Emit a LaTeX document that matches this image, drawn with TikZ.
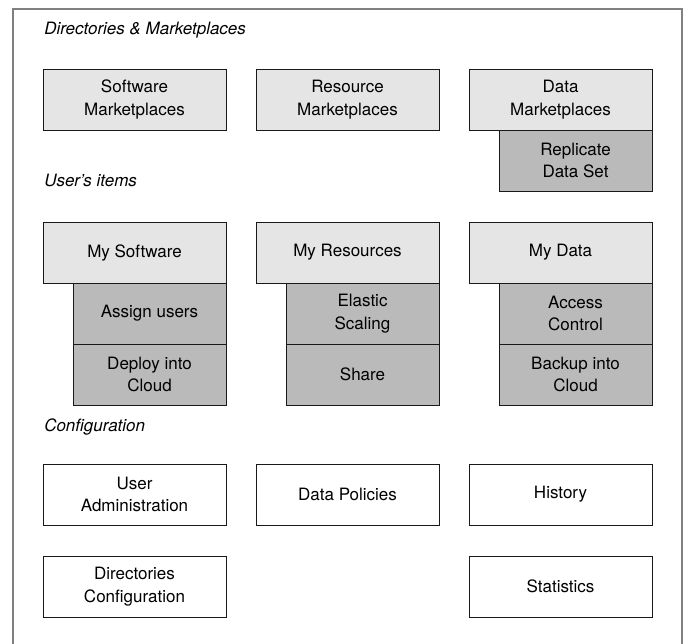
\documentclass[tikz,border=0pt]{standalone}
\usepackage{fontspec}
\setmainfont{TeX Gyre Heros}
\usetikzlibrary{positioning}

\begin{document}
\begin{tikzpicture}[x=0.75pt, y=-0.75pt,
    box/.style={draw=black!90, line width=0.75pt, inner sep=0pt, outer sep=0pt,
        align=center, font=\fontsize{12.75}{17}\selectfont,
        minimum width=137.25pt, minimum height=45.75pt},
    itembox/.style={box, fill=black!10},
    actionbox/.style={box, fill=black!27, minimum width=114.75pt},
    configbox/.style={box, fill=white},
    heading/.style={anchor=base west, inner sep=0pt, font=\fontsize{12.75}{17}\selectfont\itshape}]
    \useasboundingbox (0,0) rectangle (684,643);
    \draw[black!50, line width=1.5pt] (12.5,660) -- (12.5,8.5) -- (681.5,8.5) -- (681.5,660);

    % directories and marketplaces
    \node[heading] (dirhead) at (44,34) {Directories \& Marketplaces};
    \node[itembox, anchor=north west] (swmarket) at (43,69) {Software\\Marketplaces};
    \node[itembox, anchor=north west] (resmarket) at (256,69) {Resource\\Marketplaces};
    \node[itembox, anchor=north west] (datamarket) at (469,69) {Data\\Marketplaces};
    \node[actionbox, anchor=north east] (replicate) at (datamarket.south east) {Replicate\\Data Set};

    % user's items
    \node[heading] (itemhead) at (44,186) {User's items};
    \node[itembox, anchor=north west] (mysw) at (43,222) {My Software};
    \node[actionbox, anchor=north east] (assign) at (mysw.south east) {Assign users};
    \node[actionbox, below=0pt of assign] (deploy) {Deploy into\\Cloud};

    \node[itembox, anchor=north west] (myres) at (256,222) {My Resources};
    \node[actionbox, anchor=north east] (elastic) at (myres.south east) {Elastic\\Scaling};
    \node[actionbox, below=0pt of elastic] (share) {Share};

    \node[itembox, anchor=north west] (mydata) at (469,222) {My Data};
    \node[actionbox, anchor=north east] (access) at (mydata.south east) {Access\\Control};
    \node[actionbox, below=0pt of access] (backup) {Backup into\\Cloud};

    % configuration
    \node[heading] (confhead) at (44,431) {Configuration};
    \node[configbox, anchor=north west] (useradmin) at (43,464) {User\\Administration};
    \node[configbox, anchor=north west] (policies) at (256,464) {Data Policies};
    \node[configbox, anchor=north west] (history) at (469,464) {History};
    \node[configbox, anchor=north west] (dirconf) at (43,556) {Directories\\Configuration};
    \node[configbox, anchor=north west] (stats) at (469,556) {Statistics};
\end{tikzpicture}
\end{document}
